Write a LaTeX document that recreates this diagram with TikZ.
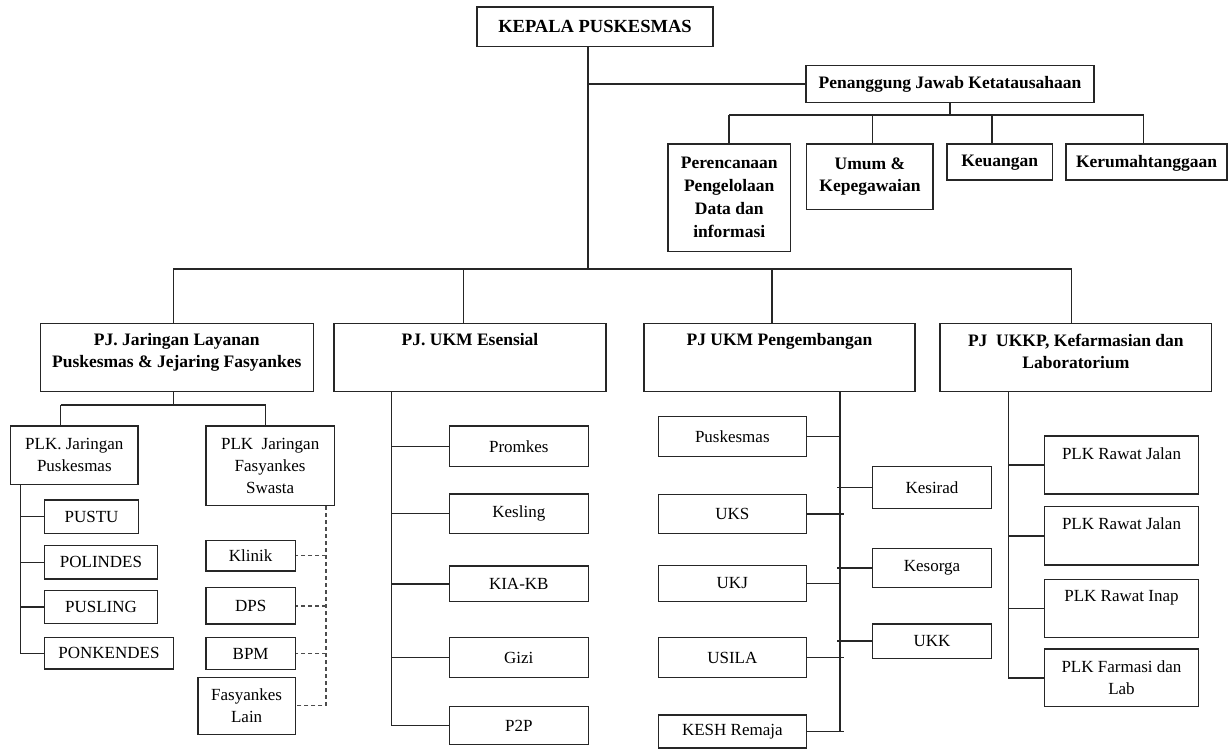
\documentclass[tikz,border=0pt]{standalone}
\usepackage{fontspec}
\setmainfont{Liberation Serif}
\begin{document}
\begin{tikzpicture}[x=1pt,y=-1pt,
  box/.style={draw=black!85,line width=1.5pt,inner sep=0pt,align=center,
    font=\fontsize{17}{22}\selectfont},
  bbox/.style={box,font=\fontsize{17.5}{22.5}\selectfont\bfseries},
  toplbl/.style={anchor=north,inner sep=0pt,align=center},
  link/.style={draw=black!85,line width=1.5pt},
  dlink/.style={draw=black!70,line width=1.3pt,dash pattern=on 4pt off 3pt}]
\useasboundingbox (0,0) rectangle (1229,749);
% box from its corners: [style]{name}{x1}{y1}{x2}{y2}{text}
\newcommand\orgbox[7][box]{%
  \node[#1,minimum width={#5-#3},minimum height={#6-#4}] (#2)
    at ({(#3+#5)/2},{(#4+#6)/2}) {#7};}

% head and administration
\orgbox[bbox,font=\fontsize{18.5}{22}\selectfont\bfseries]{kepala}{477}{7}{713}{46.7}{KEPALA PUSKESMAS}
\orgbox[bbox]{pjk}{806}{65.7}{1094}{102.7}{Penanggung Jawab Ketatausahaan}
\orgbox[bbox,font=\fontsize{17.5}{23}\selectfont\bfseries]{perenc}{668}{144}{790.5}{251.5}{Perencanaan\\Pengelolaan\\Data dan\\informasi}
\orgbox[bbox]{umum}{806.7}{144}{933.2}{209.3}{Umum \&\\Kepegawaian}
\orgbox[bbox,text depth=2pt]{keu}{947}{144}{1052.5}{180}{Keuangan}
\orgbox[bbox,text depth=2pt]{kerum}{1066}{144}{1227}{180}{Kerumahtanggaan}

% second level (text at the top of each box)
\orgbox[bbox]{pjjar}{40.3}{323.3}{313.3}{391.7}{}
\orgbox[bbox]{pjess}{334}{323.3}{606}{391.7}{}
\orgbox[bbox]{pjpeng}{644}{323.3}{915}{391.7}{}
\orgbox[bbox]{pjukkp}{940}{323.3}{1211.7}{391.7}{}
\begin{scope}[every node/.style={toplbl,font=\fontsize{17.5}{22}\selectfont\bfseries}]
\node (pjjar-t) at ([yshift=-11pt]pjjar.north) {PJ. Jaringan Layanan\\Puskesmas \& Jejaring Fasyankes};
\node (pjess-t) at ([yshift=-11pt]pjess.north) {PJ. UKM Esensial};
\node (pjpeng-t) at ([yshift=-11pt]pjpeng.north) {PJ UKM Pengembangan};
\node (pjukkp-t) at ([yshift=-11pt]pjukkp.north) {PJ\ \ UKKP, Kefarmasian dan\\Laboratorium};
\end{scope}

% network branch
\orgbox{plkpus}{10.7}{426}{138}{484.7}{PLK. Jaringan\\Puskesmas}
\orgbox{plkswa}{206}{426}{334.3}{505.7}{PLK\ \ Jaringan\\Fasyankes\\Swasta}
\orgbox{pustu}{44.7}{500}{138.3}{533.3}{PUSTU}
\orgbox{polindes}{44.7}{545.7}{157.3}{579}{POLINDES}
\orgbox{pusling}{44.7}{590.3}{157.3}{623.3}{PUSLING}
\orgbox{ponkendes}{44.7}{637.7}{173.3}{669}{PONKENDES}
\orgbox{klinik}{206}{540.3}{295.3}{571}{Klinik}
\orgbox{dps}{206}{587.7}{295.3}{624}{DPS}
\orgbox{bpm}{206}{637.7}{295.3}{669.3}{BPM}
\orgbox{fasylain}{198}{677.3}{295.3}{734.3}{Fasyankes\\Lain}

% essential programmes
\orgbox{promkes}{449.3}{426}{588.3}{466.7}{Promkes}
\orgbox{kesling}{449.3}{494}{588.3}{533.3}{Kesling}
\orgbox{kiakb}{449.3}{566}{588.3}{601.7}{KIA-KB}
\orgbox{gizi}{449.3}{637.3}{588.3}{677.7}{Gizi}
\orgbox{p2p}{449.3}{706.7}{588.3}{744.3}{P2P}

% development programmes
\orgbox{puskesmas}{658.3}{416.7}{806.3}{456.7}{Puskesmas}
\orgbox{uks}{658.3}{494.3}{806.3}{533.3}{UKS}
\orgbox{ukj}{658.3}{565.7}{806.3}{601.3}{UKJ}
\orgbox{usila}{658.3}{637.7}{806.3}{677.3}{USILA}
\orgbox{kesh}{658.3}{715}{806.3}{748}{KESH Remaja}
\orgbox{kesirad}{872.3}{466.7}{991.7}{508.3}{Kesirad}
\orgbox{kesorga}{872.3}{548.7}{991.7}{587.3}{Kesorga}
\orgbox{ukk}{872.3}{624}{991.7}{658.3}{UKK}

% UKKP, pharmacy and laboratory
\orgbox{rj1}{1044.7}{436}{1198.3}{494}{}
\orgbox{rj2}{1044.7}{506.7}{1198.3}{565}{}
\orgbox{ri}{1044.7}{579.3}{1198.3}{637.3}{}
\orgbox{farm}{1044.7}{649}{1198.3}{706.7}{PLK Farmasi dan\\Lab}
\begin{scope}[every node/.style={toplbl,font=\fontsize{17}{22}\selectfont}]
\node (rj1-t) at ([yshift=-12pt]rj1.north) {PLK Rawat Jalan};
\node (rj2-t) at ([yshift=-12pt]rj2.north) {PLK Rawat Jalan};
\node (ri-t) at ([yshift=-12pt]ri.north) {PLK Rawat Inap};
\end{scope}

% trunk and administration bus
\coordinate (trunk) at (588,269);
\draw[link] (kepala.south -| trunk) -- (trunk);
\draw[link] (trunk |- pjk.west) -- (pjk.west);
\coordinate (a1) at (729,115);
\coordinate (a2) at (872.7,115);
\coordinate (a3) at (992,115);
\coordinate (a4) at (1143.6,115);
\draw[link] (pjk.south) -- (pjk.south |- a1);
\draw[link] (a1) -- (a4);
\draw[link] (a1) -- (a1 |- perenc.north);
\draw[link] (a2) -- (a2 |- umum.north);
\draw[link] (a3) -- (a3 |- keu.north);
\draw[link] (a4) -- (a4 |- kerum.north);

% main bus
\coordinate (b1) at (173.3,269);
\coordinate (b2) at (463.3,269);
\coordinate (b3) at (772,269);
\coordinate (b4) at (1071.7,269);
\draw[link] (b1) -- (b4);
\draw[link] (b1) -- (b1 |- pjjar.north);
\draw[link] (b2) -- (b2 |- pjess.north);
\draw[link] (b3) -- (b3 |- pjpeng.north);
\draw[link] (b4) -- (b4 |- pjukkp.north);

% network branch links
\coordinate (j0) at (60.7,405);
\coordinate (j1) at (173.3,405);
\coordinate (j2) at (265.7,405);
\draw[link] (pjjar.south -| j1) -- (j1);
\draw[link] (j0) -- (j2);
\draw[link] (j0) -- (j0 |- plkpus.north);
\draw[link] (j2) -- (j2 |- plkswa.north);
\coordinate (sp) at (20.7,0);
\draw[link] (sp |- plkpus.south) -- (sp |- ponkendes.west) -- (ponkendes.west);
\draw[link] (sp |- pustu.west) -- (pustu.west);
\draw[link] (sp |- polindes.west) -- (polindes.west);
\draw[link] (sp |- pusling.west) -- (pusling.west);
\coordinate (dsp) at (326,0);
\draw[dlink] (dsp |- plkswa.south) -- (dsp |- fasylain.east) -- (fasylain.east);
\draw[dlink] (dsp |- klinik.east) -- (klinik.east);
\draw[dlink] (dsp |- dps.east) -- (dps.east);
\draw[dlink] (dsp |- bpm.east) -- (bpm.east);

% essential links
\coordinate (esp) at (391.7,0);
\draw[link] (esp |- pjess.south) -- (esp |- p2p.west) -- (p2p.west);
\draw[link] (esp |- promkes.west) -- (promkes.west);
\draw[link] (esp |- kesling.west) -- (kesling.west);
\draw[link] (esp |- kiakb.west) -- (kiakb.west);
\draw[link] (esp |- gizi.west) -- (gizi.west);

% development links
\coordinate (psp) at (840,0);
\draw[link] (psp |- pjpeng.south) -- (psp |- kesh.east);
\draw[link] (puskesmas.east) -- (puskesmas.east -| psp);
\draw[link] (uks.east) -- ([xshift=4pt]uks.east -| psp);
\draw[link] (ukj.east) -- (ukj.east -| psp);
\draw[link] (usila.east) -- ([xshift=4pt]usila.east -| psp);
\draw[link] (kesh.east) -- ([xshift=4pt]kesh.east -| psp);
\draw[link] ([xshift=-3pt]kesirad.west -| psp) -- (kesirad.west);
\draw[link] ([xshift=-3pt]kesorga.west -| psp) -- (kesorga.west);
\draw[link] ([xshift=-3pt]ukk.west -| psp) -- (ukk.west);

% UKKP links
\coordinate (usp) at (1008.3,0);
\draw[link] (usp |- pjukkp.south) -- (usp |- farm.west) -- (farm.west);
\draw[link] (usp |- rj1.west) -- (rj1.west);
\draw[link] (usp |- rj2.west) -- (rj2.west);
\draw[link] (usp |- ri.west) -- (ri.west);
\end{tikzpicture}
\end{document}
